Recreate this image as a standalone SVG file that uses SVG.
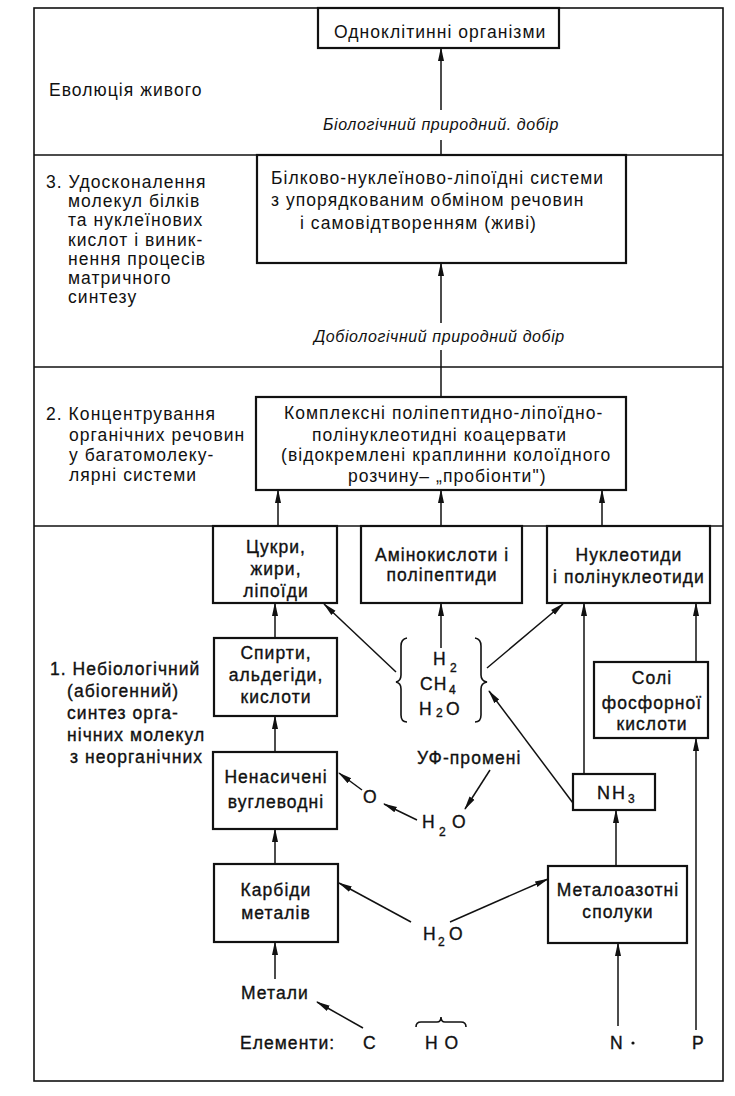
<svg xmlns="http://www.w3.org/2000/svg" width="735" height="1096" viewBox="0 0 735 1096">
<style>
text{font-family:"Liberation Sans",Arial,sans-serif;font-size:17.5px;fill:#111;letter-spacing:1.05px}
.it{font-style:italic;font-size:16px;letter-spacing:0.6px}
.b{stroke:#111;stroke-width:0.35px}
.sub{font-size:12px;letter-spacing:0}
.box{fill:#fff;stroke:#111;stroke-width:2.2}
.frame{fill:none;stroke:#111;stroke-width:1.6}
.c line,.c path{stroke:#111;stroke-width:1.5;fill:none}
.br{fill:none;stroke:#111;stroke-width:1.6}
</style>
<defs>
<marker id="ah" markerUnits="userSpaceOnUse" markerWidth="14" markerHeight="8" refX="13" refY="4" orient="auto">
<path d="M0,1 L14,4 L0,7 Z" fill="#111"/>
</marker>
</defs>
<rect width="735" height="1096" fill="#fff"/>
<g id="frame">
<rect class="frame" x="34" y="8" width="689" height="1073"/>
<line class="frame" x1="34" y1="155" x2="723" y2="155"/>
<line class="frame" x1="34" y1="367" x2="723" y2="367"/>
<line class="frame" x1="34" y1="526" x2="723" y2="526"/>
</g>
<g id="labels">
<text x="49" y="96">Еволюція живого</text>
<text x="46" y="188">3. Удосконалення</text>
<text x="68" y="207">молекул білків</text>
<text x="68" y="226">та нуклеїнових</text>
<text x="68" y="246">кислот і виник-</text>
<text x="68" y="265">нення процесів</text>
<text x="68" y="284">матричного</text>
<text x="68" y="303">синтезу</text>
<text x="46" y="420">2. Концентрування</text>
<text x="69" y="441">органічних речовин</text>
<text x="69" y="461">у багатомолеку-</text>
<text x="69" y="481">лярні системи</text>
<text class="b" x="50" y="675">1. Небіологічний</text>
<text class="b" x="67" y="697">(абіогенний)</text>
<text class="b" x="67" y="719">синтез орга-</text>
<text class="b" x="67" y="741">нічних молекул</text>
<text class="b" x="70" y="763">з неорганічних</text>
</g>
<g id="n-odnoklitynni">
<rect class="box" x="318" y="8" width="241" height="40"/>
<text x="334" y="38">Одноклітинні організми</text>
</g>
<g id="n-bilkovo">
<rect class="box" x="257" y="155" width="369" height="108"/>
<text x="271" y="184">Білково-нуклеїново-ліпоїдні системи</text>
<text x="271" y="206">з упорядкованим обміном  речовин</text>
<text x="300" y="229">і самовідтворенням (живі)</text>
</g>
<g id="n-koatservaty">
<rect class="box" x="256" y="397" width="370" height="93"/>
<text x="284" y="419">Комплексні поліпептидно-ліпоїдно-</text>
<text x="312" y="441">полінуклеотидні коацервати</text>
<text x="281" y="461">(відокремлені краплинни колоїдного</text>
<text x="348" y="482">розчину– „пробіонти")</text>
</g>
<g id="n-tsukry">
<rect class="box" x="213" y="526" width="124" height="77"/>
<text class="b" x="276" y="553" text-anchor="middle">Цукри,</text>
<text class="b" x="276" y="575" text-anchor="middle">жири,</text>
<text class="b" x="276" y="597" text-anchor="middle">ліпоїди</text>
</g>
<g id="n-aminokysloty">
<rect class="box" x="361" y="526" width="161" height="77"/>
<text class="b" x="442" y="561" text-anchor="middle">Амінокислоти і</text>
<text class="b" x="442" y="581" text-anchor="middle">поліпептиди</text>
</g>
<g id="n-nukleotydy">
<rect class="box" x="547" y="526" width="163" height="77"/>
<text class="b" x="629" y="561" text-anchor="middle">Нуклеотиди</text>
<text class="b" x="629" y="583" text-anchor="middle">і полінуклеотиди</text>
</g>
<g id="n-spyrty">
<rect class="box" x="214" y="638" width="123" height="78"/>
<text class="b" x="276" y="659" text-anchor="middle">Спирти,</text>
<text class="b" x="276" y="681" text-anchor="middle">альдегіди,</text>
<text class="b" x="276" y="703" text-anchor="middle">кислоти</text>
</g>
<g id="n-gases">
<path class="br" d="M407,638 Q401,639 401,646 L401,675 Q401,681 396,682 Q401,683 401,689 L401,715 Q401,722 407,722"/>
<path class="br" d="M475,638 Q481,639 481,646 L481,675 Q481,681 487,682 Q481,683 481,689 L481,715 Q481,722 475,722"/>
<text class="b" x="433" y="665">H</text><text class="b sub" x="450" y="672">2</text>
<text class="b" x="420" y="690">CH</text><text class="b sub" x="449" y="694">4</text>
<text class="b" x="419" y="715">H</text><text class="b sub" x="436" y="717">2</text><text class="b" x="446" y="715">O</text>
</g>
<g id="n-soli">
<rect class="box" x="594" y="662" width="114" height="76"/>
<text class="b" x="652" y="684" text-anchor="middle">Солі</text>
<text class="b" x="652" y="709" text-anchor="middle">фосфорної</text>
<text class="b" x="652" y="730" text-anchor="middle">кислоти</text>
</g>
<g id="n-nenasycheni">
<rect class="box" x="213" y="752" width="124" height="77"/>
<text class="b" x="276" y="783" text-anchor="middle">Ненасичені</text>
<text class="b" x="276" y="808" text-anchor="middle">вуглеводні</text>
</g>
<g id="n-uf">
<text class="b" x="417" y="764">УФ-промені</text>
</g>
<g id="n-o">
<text class="b" x="363" y="803">O</text>
</g>
<g id="n-h2o-1">
<text class="b" x="422" y="828">H</text><text class="b sub" x="439" y="836">2</text><text class="b" x="452" y="828">O</text>
</g>
<g id="n-nh3">
<rect class="box" x="573" y="774" width="82" height="36"/>
<text class="b" x="597" y="799" style="font-size:18px;letter-spacing:2px">NH</text><text class="b sub" x="628" y="803">3</text>
</g>
<g id="n-karbidy">
<rect class="box" x="214" y="864" width="124" height="78"/>
<text class="b" x="276" y="896" text-anchor="middle">Карбіди</text>
<text class="b" x="276" y="919" text-anchor="middle">металів</text>
</g>
<g id="n-metaloazotni">
<rect class="box" x="548" y="866" width="139" height="77"/>
<text class="b" x="618" y="896" text-anchor="middle">Металоазотні</text>
<text class="b" x="618" y="918" text-anchor="middle">сполуки</text>
</g>
<g id="n-h2o-2">
<text class="b" x="423" y="940">H</text><text class="b sub" x="438" y="946">2</text><text class="b" x="449" y="940">O</text>
</g>
<g id="n-metaly">
<text class="b" x="241" y="999">Метали</text>
</g>
<g id="n-elements">
<text class="b" x="240" y="1049">Елементи:</text>
<text class="b" x="363" y="1049">C</text>
<path class="br" d="M416,1027 Q416,1022 421,1022 L437,1022 Q441,1022 441,1017 Q441,1022 445,1022 L461,1022 Q466,1022 466,1027"/>
<text class="b" x="425" y="1049">H O</text>
<text class="b" x="610" y="1049">N</text>
<circle cx="633" cy="1043" r="1.6" fill="#111"/>
<text class="b" x="692" y="1049">P</text>
</g>
<g id="connectors" class="c">
<line x1="441" y1="155" x2="441" y2="140"/>
<line x1="441" y1="110" x2="441" y2="48" marker-end="url(#ah)"/>
<line x1="441" y1="397" x2="441" y2="350"/>
<line x1="441" y1="323" x2="441" y2="263" marker-end="url(#ah)"/>
<line x1="278" y1="526" x2="278" y2="490" marker-end="url(#ah)"/>
<line x1="441" y1="526" x2="441" y2="490" marker-end="url(#ah)"/>
<line x1="602" y1="526" x2="602" y2="490" marker-end="url(#ah)"/>
<line x1="275" y1="638" x2="275" y2="603" marker-end="url(#ah)"/>
<line x1="396" y1="672" x2="324" y2="604" marker-end="url(#ah)"/>
<line x1="441" y1="648" x2="441" y2="603" marker-end="url(#ah)"/>
<line x1="487" y1="668" x2="563" y2="604" marker-end="url(#ah)"/>
<line x1="584" y1="774" x2="584" y2="603" marker-end="url(#ah)"/>
<line x1="696" y1="662" x2="696" y2="603" marker-end="url(#ah)"/>
<line x1="573" y1="803" x2="489" y2="691" marker-end="url(#ah)"/>
<line x1="275" y1="752" x2="275" y2="716" marker-end="url(#ah)"/>
<line x1="362" y1="790" x2="339" y2="773" marker-end="url(#ah)"/>
<line x1="417" y1="820" x2="384" y2="804" marker-end="url(#ah)"/>
<line x1="490" y1="770" x2="465" y2="809" marker-end="url(#ah)"/>
<line x1="275" y1="864" x2="275" y2="829" marker-end="url(#ah)"/>
<line x1="616" y1="866" x2="616" y2="810" marker-end="url(#ah)"/>
<line x1="696" y1="1030" x2="696" y2="738" marker-end="url(#ah)"/>
<line x1="411" y1="922" x2="339" y2="883" marker-end="url(#ah)"/>
<line x1="450" y1="922" x2="548" y2="879" marker-end="url(#ah)"/>
<line x1="275" y1="979" x2="275" y2="942" marker-end="url(#ah)"/>
<line x1="363" y1="1028" x2="317" y2="1002" marker-end="url(#ah)"/>
<line x1="618" y1="1026" x2="618" y2="943" marker-end="url(#ah)"/>
</g>
<g id="italic-labels">
<text class="it" x="323" y="130">Біологічний природний. добір</text>
<text class="it" x="314" y="342">Добіологічний природний добір</text>
</g>
</svg>
